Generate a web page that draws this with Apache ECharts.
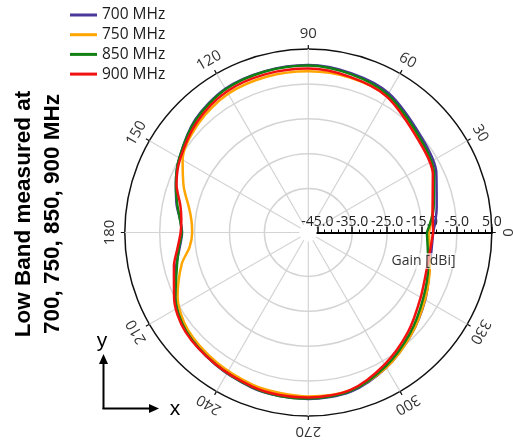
<!DOCTYPE html>
<html><head><meta charset="utf-8">
<script src="https://cdn.jsdelivr.net/npm/echarts@6/dist/echarts.min.js"></script>
<style>html,body{margin:0;padding:0;background:#fff}#c{width:513px;height:442px}</style>
</head><body><div id="c"></div>
<script>
// ---- data ----
const angles   = [0, 11, 25, 40, 60, 75, 90, 105, 120, 135, 150, 160, 168, 174, 180, 187, 194, 206, 219, 235, 250, 260, 270, 285, 300, 315, 330, 345, 360];
const gain700  = [-11.8, -10.1, -7.1, -5.2, -1.5, -0.3, 0.4, 0.3, 0.0, -1.8, -4.9, -7.2, -9.0, -10.6, -11.4, -10.4, -8.6, -5.2, -2.6, -1.3, -0.3, 0.0, 0.1, -0.4, -2.9, -6.0, -8.9, -11.5, -11.8];
const gain750  = [-13.0, -11.2, -8.0, -6.0, -2.5, -1.6, -1.4, -1.4, -1.7, -3.2, -6.0, -9.6, -12.6, -13.9, -14.3, -13.3, -10.2, -5.9, -3.2, -2.0, -1.1, -0.9, -0.6, -0.8, -2.9, -6.0, -9.0, -11.5, -13.0];
const gain850  = [-13.6, -11.0, -7.8, -5.7, -2.0, -0.6, 0.3, 0.2, -0.2, -2.0, -4.9, -7.2, -9.2, -10.6, -11.3, -10.2, -8.8, -5.2, -2.6, -1.4, -0.4, 0.0, 0.0, -0.6, -3.3, -6.5, -9.6, -12.0, -13.6];
const gain900  = [-11.8, -11.3, -8.2, -6.4, -2.6, -1.4, -0.6, -0.6, -0.9, -2.6, -5.2, -7.4, -10.1, -11.0, -11.0, -9.8, -7.9, -4.8, -2.3, -1.4, -0.6, -0.3, -0.3, -0.9, -3.9, -7.2, -10.4, -12.2, -11.8];
const seriesNames = ['700 MHz', '750 MHz', '850 MHz', '900 MHz'];
const angleTicks  = [0, 30, 60, 90, 120, 150, 180, 210, 240, 270, 300, 330];
const radiusMin = -45, radiusMax = 5, radiusStep = 10;
const titleLines = ['Low Band measured at', '700, 750, 850, 900 MHz'];
const radiusName = 'Gain [dBi]';

// ---- layout / style ----
const CX = 308.3, CY = 232.5, R_IN = 9, R_OUT = 183.5;
const colors = ['#4B3699', '#FFA500', '#138013', '#F21111'];
const gridGrey = '#d4d4d4';

const chart = echarts.init(document.getElementById('c'));
const gains = [gain700, gain750, gain850, gain900];
const series = gains.map((g, i) => ({
  type: 'line', name: seriesNames[i], coordinateSystem: 'polar',
  data: g.map((v, j) => [v, angles[j]]),
  symbol: 'none', smooth: 0.3,
  lineStyle: { color: colors[i], width: 2.5 },
  itemStyle: { color: colors[i] },
  z: 3 + i
}));

chart.setOption({
  animation: false,
  backgroundColor: '#fff',
  polar: { center: [CX, CY], radius: [R_IN, R_OUT] },
  angleAxis: {
    type: 'value', min: 0, max: 360, interval: 30, startAngle: 0, clockwise: false,
    axisLine: { show: false },
    axisTick: { show: true, length: 4, lineStyle: { color: '#111', width: 1.2 } },
    axisLabel: { show: false },
    splitLine: { show: true, lineStyle: { color: gridGrey, width: 1.2 } }
  },
  radiusAxis: {
    type: 'value', min: radiusMin, max: radiusMax, interval: radiusStep,
    axisLine: { lineStyle: { color: '#000', width: 2 } },
    axisTick: { show: true, length: 6, lineStyle: { color: '#000', width: 1.5 } },
    minorTick: { show: true, splitNumber: 5, length: 3, lineStyle: { color: '#000', width: 1 } },
    axisLabel: { formatter: v => v.toFixed(1), fontSize: 14, color: '#222', fontFamily: 'Open Sans', margin: 3 },
    splitLine: { show: true, lineStyle: { color: ['rgba(0,0,0,0)', gridGrey, gridGrey, gridGrey, gridGrey, '#111'], width: 1.5 } }
  },
  legend: {
    orient: 'vertical', left: 65, top: 2,
    icon: 'rect', itemWidth: 27, itemHeight: 3, itemGap: 3.7,
    textStyle: { fontSize: 15.5, fontFamily: 'Open Sans', color: '#1a1a1a', lineHeight: 16 },
    data: seriesNames
  },
  series
});

// ---- labels and decorations ----
const gfx = [];
angleTicks.forEach(a => {
  const p = chart.convertToPixel({ seriesIndex: 0 }, [radiusMax, a]);
  const dx = p[0] - CX, dy = p[1] - CY, L = Math.hypot(dx, dy);
  const off = 15;
  gfx.push({
    type: 'text', x: p[0] + dx / L * off, y: p[1] + dy / L * off,
    rotation: (a - 90) * Math.PI / 180,
    style: { text: String(a), fontSize: 15, fontFamily: 'Open Sans', fill: '#333', align: 'center', verticalAlign: 'middle' }
  });
});
gfx.push({
  type: 'text', x: 423.5, y: 261, z: 100,
  style: { text: radiusName, fontSize: 14, fontFamily: 'Open Sans', fill: '#333', align: 'center', verticalAlign: 'middle',
           backgroundColor: 'rgba(255,255,255,0.6)', padding: [1, 2] }
});
gfx.push({
  type: 'text', x: 38, y: 214, rotation: Math.PI / 2,
  style: { text: titleLines.join('\n'), fontSize: 22.5, fontWeight: 'bold', fontFamily: 'Liberation Sans, Arial', fill: '#000',
           align: 'center', verticalAlign: 'middle', lineHeight: 29 }
});
// coordinate icon
gfx.push({ type: 'line', shape: { x1: 103.5, y1: 409, x2: 103.5, y2: 362 }, style: { stroke: '#000', lineWidth: 2 } });
gfx.push({ type: 'polygon', shape: { points: [[103.5, 354], [99, 364], [108, 364]] }, style: { fill: '#000' } });
gfx.push({ type: 'line', shape: { x1: 102.5, y1: 408.5, x2: 151, y2: 408.5 }, style: { stroke: '#000', lineWidth: 2 } });
gfx.push({ type: 'polygon', shape: { points: [[159, 408.5], [149, 404], [149, 413]] }, style: { fill: '#000' } });
gfx.push({ type: 'text', x: 102, y: 341, style: { text: 'y', fontSize: 21, fontFamily: 'Liberation Sans, Arial', fill: '#000', align: 'center', verticalAlign: 'middle' } });
gfx.push({ type: 'text', x: 175, y: 409, style: { text: 'x', fontSize: 21, fontFamily: 'Liberation Sans, Arial', fill: '#000', align: 'center', verticalAlign: 'middle' } });

chart.setOption({ graphic: gfx });
</script>
</body></html>
